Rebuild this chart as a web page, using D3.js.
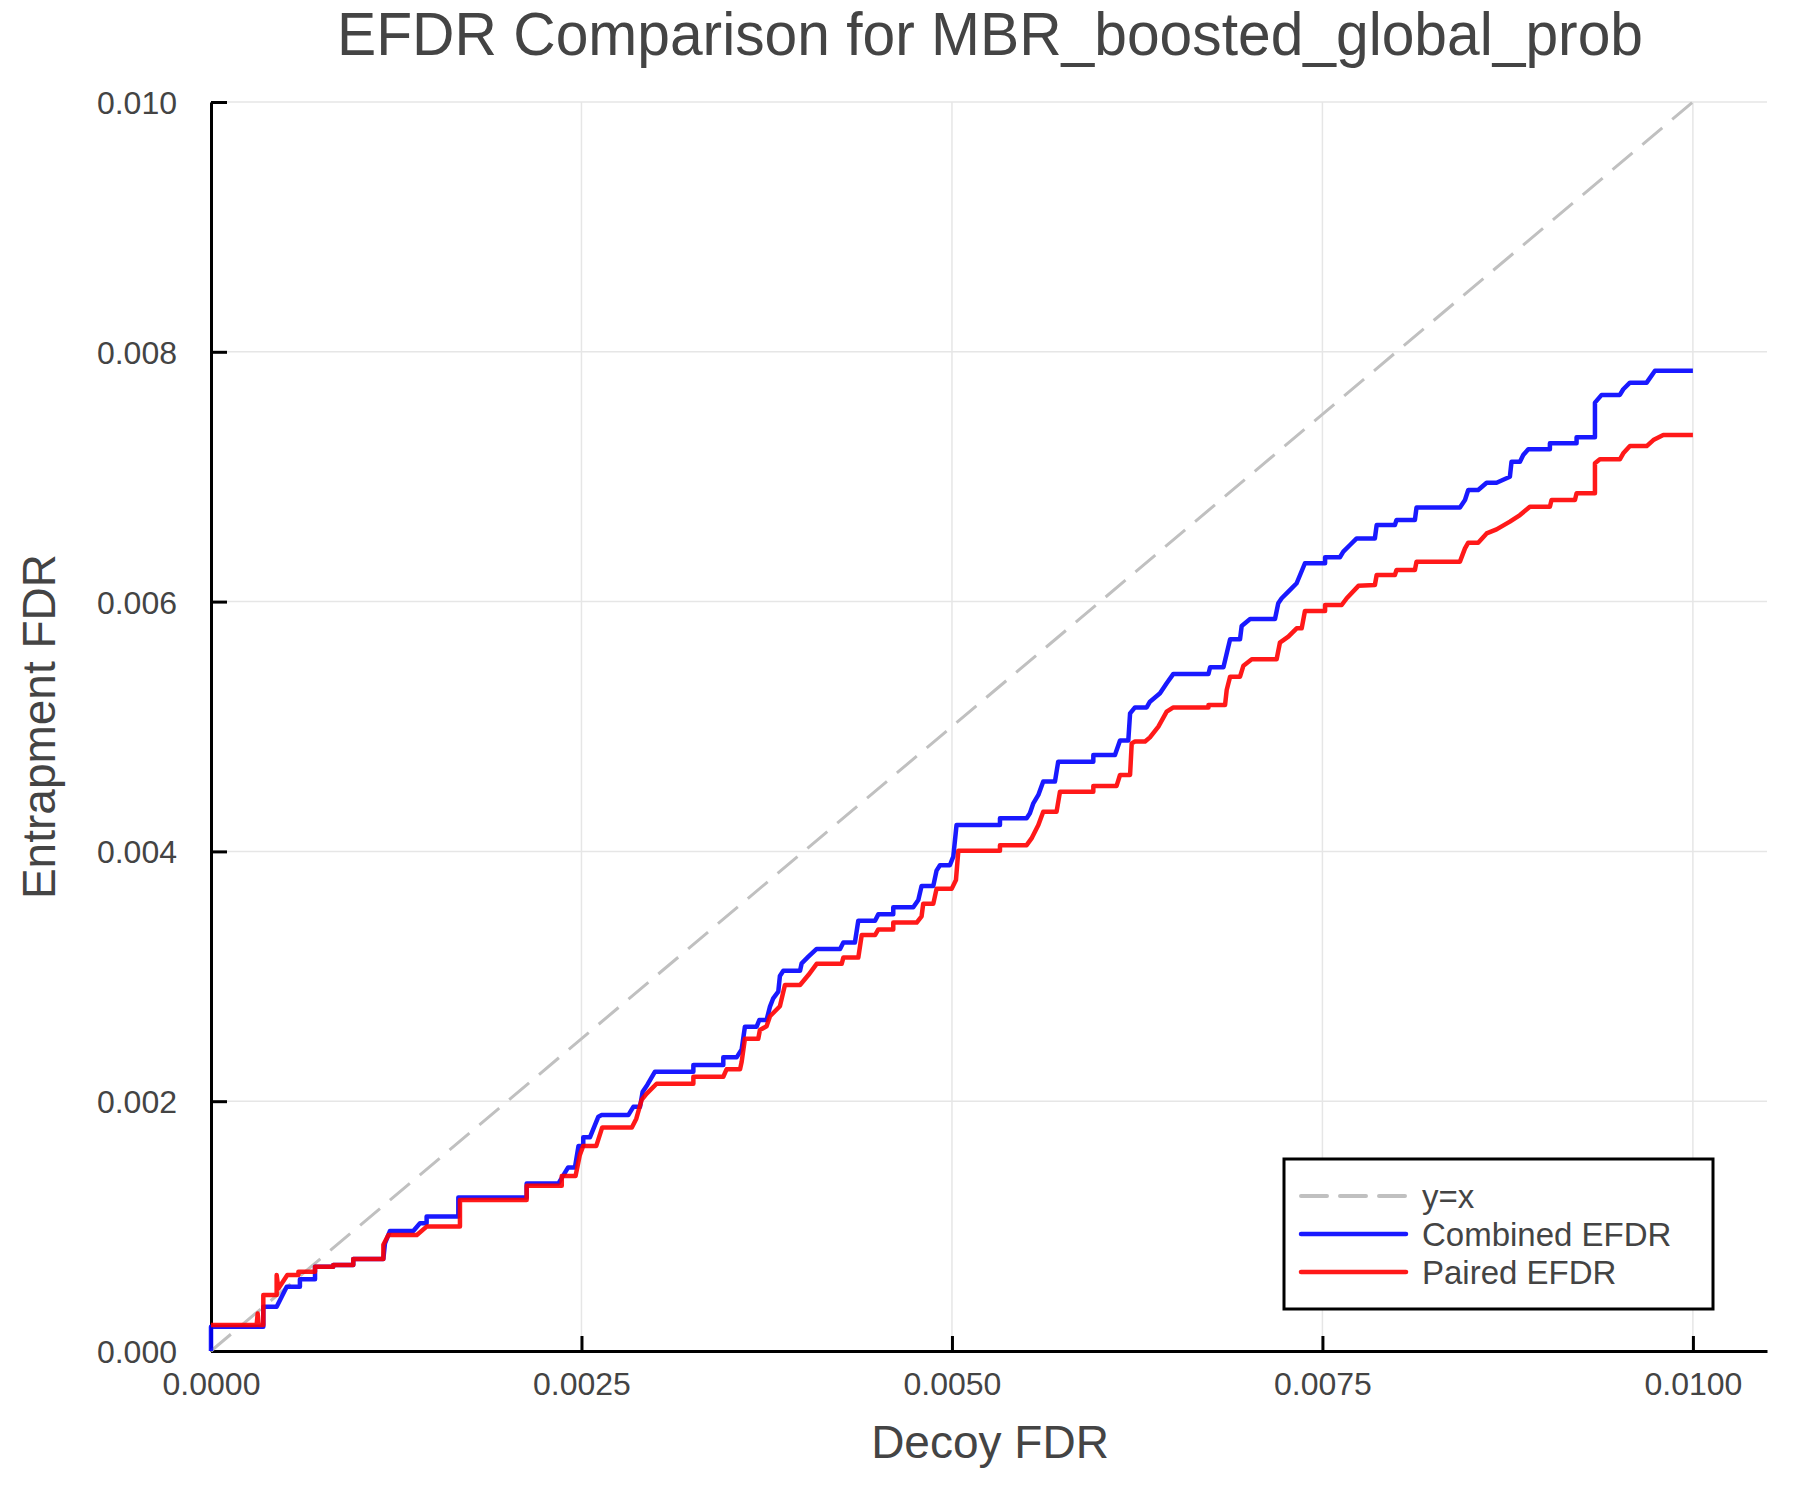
<!DOCTYPE html>
<html>
<head>
<meta charset="utf-8">
<script src="https://cdn.jsdelivr.net/npm/d3@7"></script>
<style>
  body { margin: 0; background: #ffffff; }
  text { font-family: "Liberation Sans", Arial, Helvetica, sans-serif; fill: #444444; }
</style>
</head>
<body>
<div id="chart"></div>
<script>
// values, in units of 1e-3 (both axes)
const combinedDecoy = [0, 0, 0.353, 0.353, 0.443, 0.477, 0.511, 0.60, 0.60, 0.702, 0.702, 0.825, 0.825, 0.96, 0.96, 1.163, 1.174, 1.208, 1.365, 1.41, 1.455, 1.455, 1.669, 1.669, 2.13, 2.13, 2.345, 2.41, 2.456, 2.48, 2.512, 2.512, 2.557, 2.614,
  2.636, 2.816, 2.85, 2.895, 2.913, 2.944, 2.996, 3.255, 3.255, 3.457, 3.457, 3.547, 3.581, 3.603, 3.682, 3.70, 3.749, 3.772, 3.794, 3.828, 3.839, 3.862, 3.975, 3.986, 4.031, 4.087, 4.245, 4.267, 4.345, 4.368, 4.481, 4.503, 4.604, 4.604, 4.739, 4.773, 4.795, 4.874, 4.896, 4.919, 4.986, 5.009, 5.031,
  5.324, 5.324, 5.504, 5.526, 5.549, 5.583, 5.616, 5.695, 5.717, 5.954, 5.954, 6.10, 6.134, 6.19, 6.202, 6.235, 6.314, 6.336, 6.404, 6.449, 6.494, 6.731, 6.742, 6.832, 6.854, 6.877, 6.944, 6.955, 7.012, 7.18, 7.202, 7.225, 7.27, 7.326, 7.382, 7.518, 7.518,
  7.618, 7.641, 7.686, 7.731, 7.854, 7.866, 7.989, 8.0, 8.124, 8.135, 8.428, 8.462, 8.484, 8.551, 8.608, 8.675, 8.765, 8.776, 8.833, 8.855, 8.889, 9.035, 9.035, 9.215, 9.215, 9.339, 9.339, 9.384, 9.507, 9.53, 9.575, 9.688, 9.744, 10.0];
const combinedEfdr = [0, 0.195, 0.195, 0.355, 0.355, 0.435, 0.515, 0.515, 0.574, 0.574, 0.675, 0.675, 0.689, 0.689, 0.737, 0.737, 0.862, 0.961, 0.961, 1.022, 1.022, 1.076, 1.076, 1.228, 1.228, 1.342, 1.342, 1.470, 1.470, 1.642, 1.642, 1.711, 1.711, 1.876,
  1.889, 1.889, 1.955, 1.955, 2.076, 2.13, 2.236, 2.236, 2.29, 2.29, 2.351, 2.351, 2.415, 2.597, 2.597, 2.65, 2.65, 2.757, 2.824, 2.877, 3.002, 3.045, 3.045, 3.104, 3.157, 3.219, 3.219, 3.27, 3.27, 3.445, 3.445, 3.496, 3.496, 3.552, 3.552, 3.611, 3.723, 3.723, 3.846, 3.889, 3.889, 3.958, 4.211,
  4.211, 4.265, 4.265, 4.305, 4.385, 4.452, 4.559, 4.559, 4.718, 4.718, 4.772, 4.772, 4.887, 4.887, 5.105, 5.153, 5.153, 5.199, 5.266, 5.346, 5.421, 5.421, 5.474, 5.474, 5.585, 5.698, 5.698, 5.805, 5.861, 5.861, 5.987, 6.027, 6.08, 6.147, 6.307, 6.307, 6.355,
  6.355, 6.40, 6.453, 6.506, 6.506, 6.613, 6.613, 6.653, 6.653, 6.754, 6.754, 6.813, 6.893, 6.893, 6.952, 6.952, 7.0, 7.12, 7.12, 7.173, 7.219, 7.219, 7.267, 7.267, 7.315, 7.315, 7.593, 7.655, 7.655, 7.70, 7.753, 7.753, 7.849, 7.849];

const pairedDecoy = [0, 0.308, 0.315, 0.322, 0.353, 0.353, 0.443, 0.443, 0.455, 0.515, 0.59, 0.59, 0.702, 0.702, 0.825, 0.825, 0.96, 0.96, 1.163, 1.163, 1.197, 1.389, 1.455, 1.68, 1.68, 2.13, 2.13, 2.367, 2.367, 2.46, 2.489, 2.512, 2.60, 2.64,
  2.84, 2.87, 2.906, 2.94, 3.007, 3.255, 3.255, 3.457, 3.479, 3.57, 3.581, 3.603, 3.693, 3.704, 3.749, 3.772, 3.839, 3.873, 3.975, 4.031, 4.087, 4.256, 4.267, 4.368, 4.391, 4.481, 4.503, 4.604, 4.604, 4.762, 4.795, 4.806, 4.874, 4.896, 4.998, 5.027, 5.043,
  5.324, 5.324, 5.504, 5.537, 5.583, 5.616, 5.706, 5.729, 5.954, 5.954, 6.111, 6.134, 6.202, 6.213, 6.235, 6.303, 6.336, 6.393, 6.449, 6.494, 6.731, 6.731, 6.843, 6.854, 6.877, 6.944, 6.967, 7.023, 7.191, 7.213, 7.27, 7.326, 7.36, 7.382, 7.518, 7.518, 7.63, 7.664, 7.743,
  7.854, 7.866, 7.989, 8.0, 8.124, 8.135, 8.428, 8.462, 8.484, 8.551, 8.608, 8.675, 8.765, 8.833, 8.9, 9.035, 9.046, 9.204, 9.215, 9.339, 9.339, 9.372, 9.507, 9.53, 9.575, 9.688, 9.733, 9.80, 10.0];
const pairedEfdr = [0.208, 0.208, 0.30, 0.208, 0.208, 0.449, 0.449, 0.609, 0.50, 0.609, 0.609, 0.635, 0.635, 0.675, 0.675, 0.689, 0.689, 0.737, 0.737, 0.85, 0.929, 0.929, 0.996, 0.996, 1.209, 1.209, 1.324, 1.324, 1.401, 1.401, 1.57, 1.642, 1.642, 1.79,
  1.79, 1.86, 2.01, 2.06, 2.14, 2.14, 2.196, 2.196, 2.255, 2.255, 2.316, 2.50, 2.50, 2.57, 2.60, 2.68, 2.76, 2.93, 2.93, 3.01, 3.10, 3.10, 3.15, 3.15, 3.33, 3.33, 3.375, 3.375, 3.43, 3.43, 3.48, 3.58, 3.58, 3.70, 3.70, 3.771, 4.005,
  4.005, 4.05, 4.05, 4.104, 4.211, 4.318, 4.318, 4.478, 4.478, 4.524, 4.524, 4.612, 4.612, 4.865, 4.88, 4.88, 4.913, 4.999, 5.119, 5.153, 5.153, 5.172, 5.172, 5.292, 5.399, 5.399, 5.487, 5.538, 5.538, 5.671, 5.719, 5.786, 5.786, 5.925, 5.925, 5.973, 5.973, 6.027, 6.126,
  6.133, 6.213, 6.213, 6.253, 6.253, 6.32, 6.32, 6.426, 6.472, 6.472, 6.546, 6.578, 6.64, 6.693, 6.76, 6.76, 6.813, 6.813, 6.867, 6.867, 7.107, 7.139, 7.139, 7.187, 7.245, 7.245, 7.293, 7.333, 7.333];

const xTicks = [0, 0.0025, 0.005, 0.0075, 0.01];
const yTicks = [0, 0.002, 0.004, 0.006, 0.008, 0.01];
const seriesNames = ["y=x", "Combined EFDR", "Paired EFDR"];

const width = 1800, height = 1500;
const plotLeft = 211, plotRight = 1767, plotTop = 102, plotBottom = 1351;

const toPoints = (xs, ys) => xs.map((v, i) => [v * 1e-3, ys[i] * 1e-3]);
const combined = toPoints(combinedDecoy, combinedEfdr);
const paired = toPoints(pairedDecoy, pairedEfdr);

const x = d3.scaleLinear().domain([0, 0.0105]).range([plotLeft, plotRight]);
const y = d3.scaleLinear().domain([0, 0.01]).range([plotBottom, plotTop]);

const svg = d3.select("#chart").append("svg")
  .attr("width", width)
  .attr("height", height)
  .style("background", "#ffffff");

// grid
svg.append("g").selectAll("line")
  .data(xTicks).enter().append("line")
  .attr("x1", d => x(d)).attr("x2", d => x(d))
  .attr("y1", plotTop).attr("y2", plotBottom)
  .attr("stroke", "#e6e6e6").attr("stroke-width", 1.5);
svg.append("g").selectAll("line")
  .data(yTicks).enter().append("line")
  .attr("x1", plotLeft).attr("x2", plotRight)
  .attr("y1", d => y(d)).attr("y2", d => y(d))
  .attr("stroke", "#e6e6e6").attr("stroke-width", 1.5);

// axes (ticks point inward)
const xAxis = svg.append("g")
  .attr("transform", "translate(0," + plotBottom + ")")
  .call(d3.axisBottom(x).tickValues(xTicks).tickFormat(d3.format(".4f")).tickSize(-15).tickSizeOuter(0));
xAxis.select(".domain").attr("stroke", "#000").attr("stroke-width", 3);
xAxis.selectAll(".tick line").attr("stroke", "#000").attr("stroke-width", 3);
xAxis.selectAll(".tick text")
  .attr("y", 44).attr("dy", 0)
  .style("font-size", "32px")
  .style("font-family", "'Liberation Sans', Arial, sans-serif")
  .attr("fill", "#444444");

const yAxis = svg.append("g")
  .attr("transform", "translate(" + plotLeft + ",0)")
  .call(d3.axisLeft(y).tickValues(yTicks).tickFormat(d3.format(".3f")).tickSize(-16).tickSizeOuter(0).tickPadding(34));
yAxis.select(".domain").attr("stroke", "#000").attr("stroke-width", 3);
yAxis.selectAll(".tick line").attr("stroke", "#000").attr("stroke-width", 3);
yAxis.selectAll(".tick text")
  .attr("dy", "0.36em")
  .style("font-size", "32px")
  .style("font-family", "'Liberation Sans', Arial, sans-serif")
  .attr("fill", "#444444");

// lines
const line = d3.line().x(d => x(d[0])).y(d => y(d[1]));

svg.append("path")
  .datum([[0, 0], [0.01, 0.01]])
  .attr("d", line)
  .attr("fill", "none")
  .attr("stroke", "#c0c0c0")
  .attr("stroke-width", 3)
  .attr("stroke-dasharray", "26,13");

svg.append("path")
  .datum(combined)
  .attr("d", line)
  .attr("fill", "none")
  .attr("stroke", "#0000ff")
  .attr("stroke-opacity", 0.9)
  .attr("stroke-width", 4.5)
  .attr("stroke-linejoin", "round");

svg.append("path")
  .datum(paired)
  .attr("d", line)
  .attr("fill", "none")
  .attr("stroke", "#ff0000")
  .attr("stroke-opacity", 0.9)
  .attr("stroke-width", 4.5)
  .attr("stroke-linejoin", "round");

// title and axis labels
svg.append("text")
  .attr("x", 990).attr("y", 55)
  .attr("text-anchor", "middle")
  .attr("textLength", 1306)
  .attr("lengthAdjust", "spacingAndGlyphs")
  .style("font-size", "62px")
  .text("EFDR Comparison for MBR_boosted_global_prob");

svg.append("text")
  .attr("x", 990).attr("y", 1458)
  .attr("text-anchor", "middle")
  .style("font-size", "46px")
  .text("Decoy FDR");

svg.append("text")
  .attr("transform", "translate(55," + ((plotTop + plotBottom) / 2) + ") rotate(-90)")
  .attr("text-anchor", "middle")
  .style("font-size", "46px")
  .text("Entrapment FDR");

// legend
const legend = svg.append("g");
legend.append("rect")
  .attr("x", 1284).attr("y", 1159)
  .attr("width", 429).attr("height", 150)
  .attr("fill", "#ffffff")
  .attr("stroke", "#000")
  .attr("stroke-width", 3);

const legendStyles = [
  { color: "#c0c0c0", dash: "26,13", w: 4, op: 1 },
  { color: "#0000ff", dash: null, w: 4.5, op: 0.9 },
  { color: "#ff0000", dash: null, w: 4.5, op: 0.9 }
];
const legendY = d3.scalePoint().domain(seriesNames).range([1196, 1272]);

const item = legend.selectAll("g.item")
  .data(seriesNames).enter().append("g")
  .attr("class", "item")
  .attr("transform", d => "translate(0," + legendY(d) + ")");

item.append("line")
  .attr("x1", 1301).attr("x2", 1406)
  .attr("y1", 0).attr("y2", 0)
  .attr("stroke", (d, i) => legendStyles[i].color)
  .attr("stroke-opacity", (d, i) => legendStyles[i].op)
  .attr("stroke-width", (d, i) => legendStyles[i].w)
  .attr("stroke-linecap", "round")
  .attr("stroke-dasharray", (d, i) => legendStyles[i].dash);

item.append("text")
  .attr("x", 1422).attr("y", 0)
  .attr("dy", "0.36em")
  .style("font-size", "33px")
  .text(d => d);
</script>
</body>
</html>
